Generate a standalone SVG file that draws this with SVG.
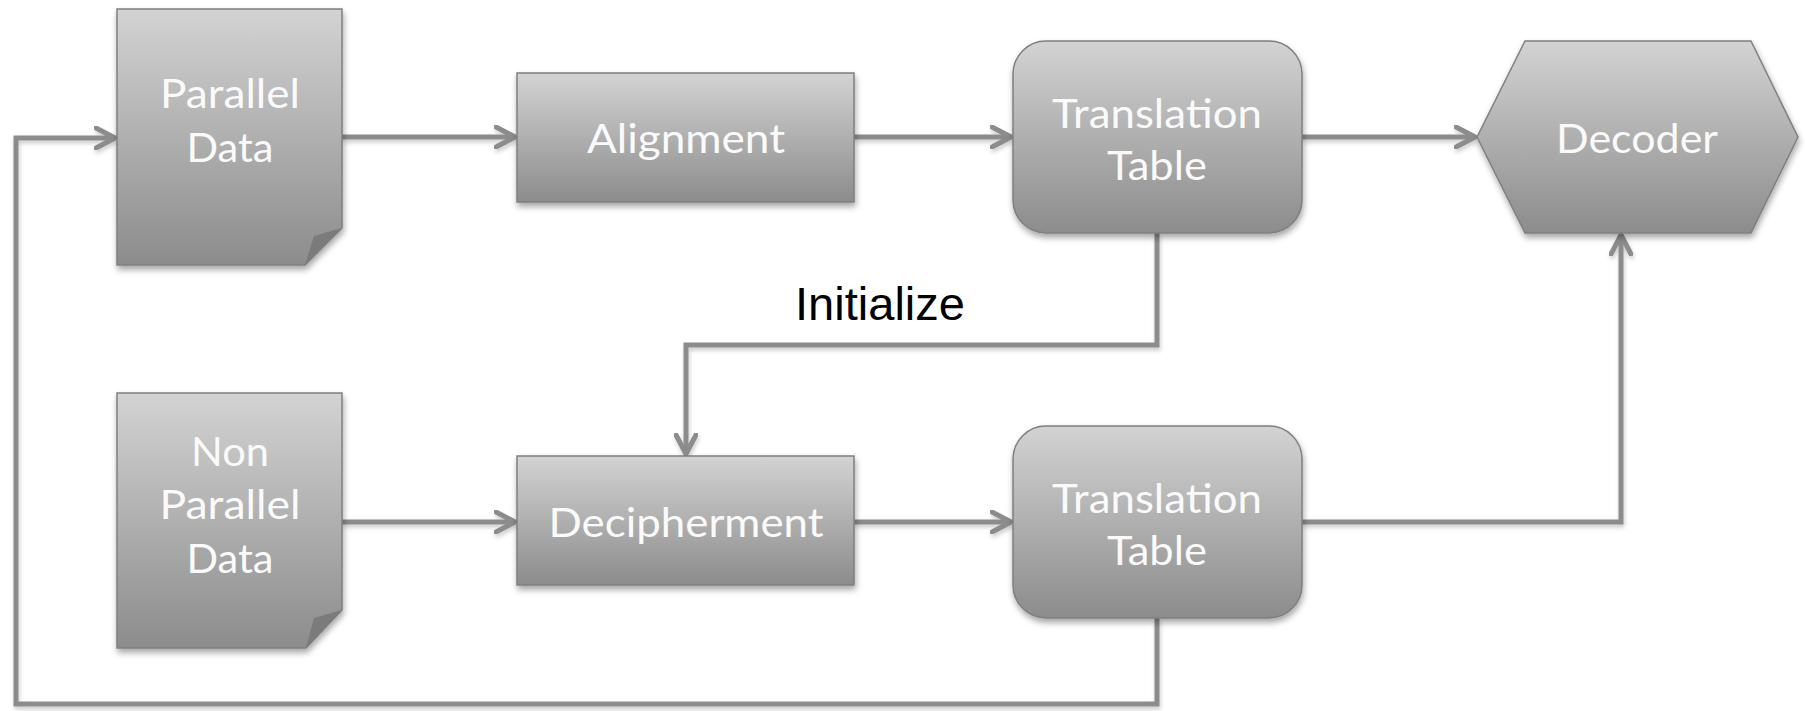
<svg xmlns="http://www.w3.org/2000/svg" width="1805" height="711" viewBox="0 0 1805 711">
  <defs>
    <linearGradient id="fillGrad" x1="0" y1="0" x2="0" y2="1">
      <stop offset="0" stop-color="#d3d3d3"/>
      <stop offset="1" stop-color="#8c8c8c"/>
    </linearGradient>
    <filter id="shadow" x="-10%" y="-10%" width="125%" height="130%">
      <feDropShadow dx="1" dy="4" stdDeviation="3" flood-color="#000" flood-opacity="0.35"/>
    </filter>
    <filter id="lineShadow" x="-5%" y="-5%" width="110%" height="110%">
      <feDropShadow dx="1" dy="3" stdDeviation="2" flood-color="#000" flood-opacity="0.2"/>
    </filter>
    <marker id="arrow" viewBox="0 0 24 24" refX="21" refY="12" markerWidth="24" markerHeight="24" markerUnits="userSpaceOnUse" orient="auto">
      <path d="M2,2 L21,12 L2,22" fill="none" stroke="#8c8c8c" stroke-width="5" stroke-linecap="round" stroke-linejoin="round"/>
    </marker>
    <style>
      .shape { fill: url(#fillGrad); stroke: #7f7f7f; stroke-width: 1.5; filter: url(#shadow); }
      .fold { fill: #7b7b7b; }
      .label { font-family: Lato, "Open Sans", "Liberation Sans", sans-serif; font-size: 41px; fill: #fafafa; text-anchor: middle; }
      .edge { fill: none; stroke: #8c8c8c; stroke-width: 5; stroke-linejoin: miter; }
      .edgeLabel { font-family: "Liberation Sans", Arial, sans-serif; font-size: 47px; fill: #000000; text-anchor: middle; }
    </style>
  </defs>

  <rect x="0" y="0" width="1805" height="711" fill="#ffffff"/>

  <!-- connectors -->
  <g id="connectors">
    <g filter="url(#lineShadow)">
      <path class="edge" d="M342,137 H515" marker-end="url(#arrow)"/>
      <path class="edge" d="M854,137 H1011" marker-end="url(#arrow)"/>
      <path class="edge" d="M1302,137 H1475" marker-end="url(#arrow)"/>
      <path class="edge" d="M1157,233 V345 H686 V454" marker-end="url(#arrow)"/>
      <path class="edge" d="M342,522 H515" marker-end="url(#arrow)"/>
      <path class="edge" d="M854,522 H1011" marker-end="url(#arrow)"/>
      <path class="edge" d="M1302,522 H1621 V235" marker-end="url(#arrow)"/>
      <path class="edge" d="M1157,618 V704 H16 V138 H115" marker-end="url(#arrow)"/>
    </g>
    <text class="edgeLabel" x="880" y="320" textLength="170" lengthAdjust="spacingAndGlyphs">Initialize</text>
  </g>

  <!-- document: parallel data -->
  <g id="parallel-data">
    <path class="shape" d="M117,9 H342 V228 L305,265 H117 Z"/>
    <path class="fold" d="M305,265 L342,228 L314,236 Z"/>
    <text class="label" x="230" y="108" textLength="140" lengthAdjust="spacingAndGlyphs">Parallel</text>
    <text class="label" x="230" y="162" textLength="87" lengthAdjust="spacingAndGlyphs">Data</text>
  </g>

  <!-- process: alignment -->
  <g id="alignment">
    <rect class="shape" x="517" y="73" width="337" height="129"/>
    <text class="label" x="686" y="153" textLength="198" lengthAdjust="spacingAndGlyphs">Alignment</text>
  </g>

  <!-- rounded box: translation table (from alignment) -->
  <g id="translation-table-1">
    <rect class="shape" x="1013" y="41" width="289" height="192" rx="33" ry="33"/>
    <text class="label" x="1157" y="128" textLength="210" lengthAdjust="spacingAndGlyphs">Translation</text>
    <text class="label" x="1157" y="180" textLength="100" lengthAdjust="spacingAndGlyphs">Table</text>
  </g>

  <!-- hexagon: decoder -->
  <g id="decoder">
    <polygon class="shape" points="1477,137 1525,41 1751,41 1798,137 1751,233 1525,233"/>
    <text class="label" x="1637" y="153" textLength="162" lengthAdjust="spacingAndGlyphs">Decoder</text>
  </g>

  <!-- document: non parallel data -->
  <g id="non-parallel-data">
    <path class="shape" d="M117,393 H342 V610 L306,648 H117 Z"/>
    <path class="fold" d="M306,648 L342,610 L314,618 Z"/>
    <text class="label" x="230" y="466" textLength="78" lengthAdjust="spacingAndGlyphs">Non</text>
    <text class="label" x="230" y="519" textLength="141" lengthAdjust="spacingAndGlyphs">Parallel</text>
    <text class="label" x="230" y="573" textLength="87" lengthAdjust="spacingAndGlyphs">Data</text>
  </g>

  <!-- process: decipherment -->
  <g id="decipherment">
    <rect class="shape" x="517" y="456" width="337" height="129"/>
    <text class="label" x="686" y="537" textLength="275" lengthAdjust="spacingAndGlyphs">Decipherment</text>
  </g>

  <!-- rounded box: translation table (from decipherment) -->
  <g id="translation-table-2">
    <rect class="shape" x="1013" y="426" width="289" height="192" rx="33" ry="33"/>
    <text class="label" x="1157" y="513" textLength="210" lengthAdjust="spacingAndGlyphs">Translation</text>
    <text class="label" x="1157" y="565" textLength="100" lengthAdjust="spacingAndGlyphs">Table</text>
  </g>
</svg>
